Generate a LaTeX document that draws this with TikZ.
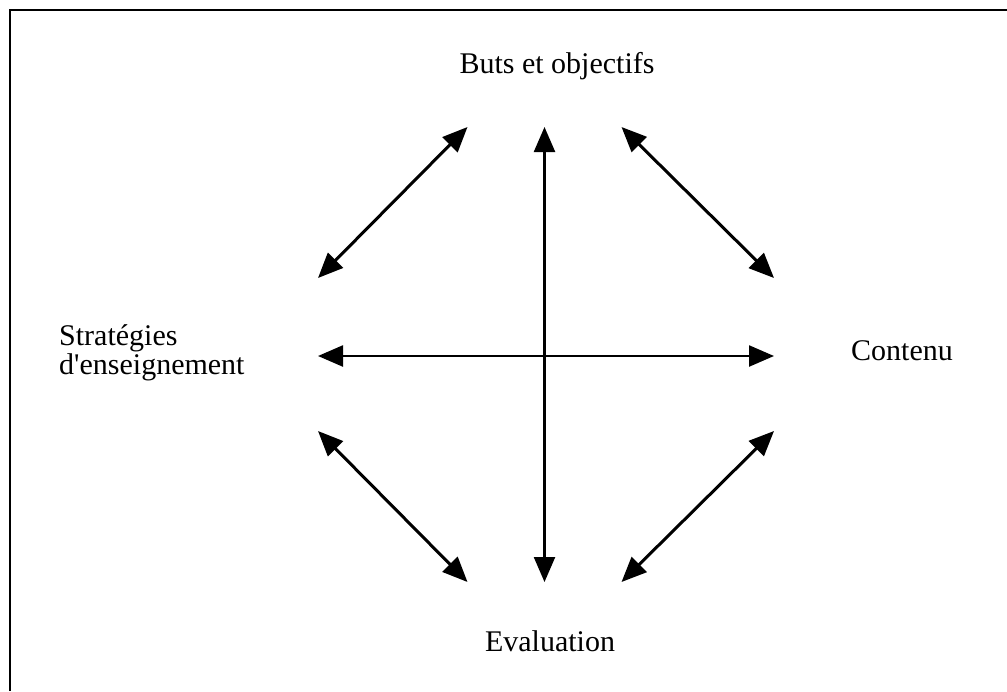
\documentclass[tikz,border=0pt]{standalone}
\usepackage{fontspec}
\setmainfont{Liberation Serif}
\usetikzlibrary{arrows.meta}
\tikzset{
  lbl/.style={inner sep=0pt, font=\fontsize{30}{26}\selectfont, text=black},
  dbl/.style={line width=3pt, {Triangle[length=25pt,width=21pt]}-{Triangle[length=25pt,width=21pt]}},
  axis/.style={line width=2.4pt, {Triangle[length=25pt,width=21pt]}-{Triangle[length=25pt,width=21pt]}},
  frame/.style={line width=2.5pt, line cap=butt}
}
\begin{document}
\begin{tikzpicture}[x=1pt,y=-1pt]
\useasboundingbox (0,0) rectangle (1007,691);
\fill[white] (0,0) rectangle (1007,691);
% frame (open on the right and bottom)
\coordinate (fbl) at (10,691);
\coordinate (ftl) at (10,10);
\coordinate (ftr) at (1007,10);
\draw[frame] (fbl) -- (ftl) -- (ftr);
% labels
\node[lbl, anchor=base] (buts) at (557,73) {Buts et objectifs};
\node[lbl, anchor=base west, align=left] (strat) at (59,374) {Stratégies\\d\textquotesingle enseignement};
\node[lbl, anchor=base west] (cont) at (851,360) {Contenu};
\node[lbl, anchor=base] (eval) at (550,651) {Evaluation};
% arrow end points
\coordinate (ulA) at (467.5,127);
\coordinate (ulB) at (318,278);
\coordinate (vT) at (544.5,127);
\coordinate (vB) at (544.5,582);
\coordinate (urA) at (621.5,127);
\coordinate (urB) at (774,278);
\coordinate (hL) at (318,356);
\coordinate (hR) at (774,356);
\coordinate (llA) at (318,431);
\coordinate (llB) at (467.5,582);
\coordinate (lrA) at (774,431);
\coordinate (lrB) at (621.5,582);
% arrows
\draw[dbl] (ulB) -- (ulA);
\draw[dbl] (urA) -- (urB);
\draw[dbl] (llA) -- (llB);
\draw[dbl] (lrB) -- (lrA);
\draw[axis] (vT) -- (vB);
\draw[axis] (hL) -- (hR);
\end{tikzpicture}
\end{document}
